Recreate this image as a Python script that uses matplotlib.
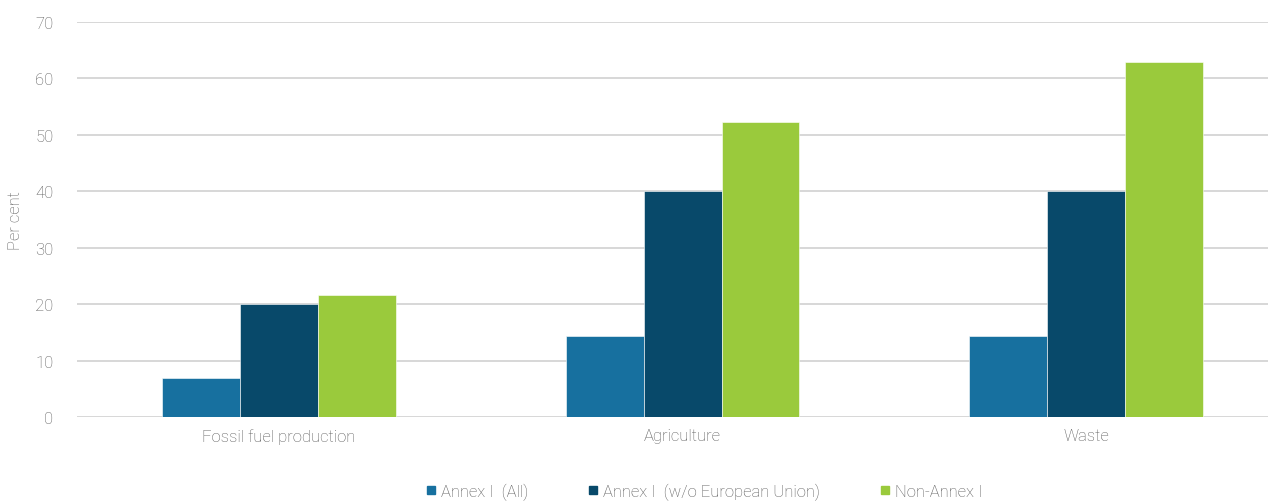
import matplotlib
matplotlib.use("Agg")
import matplotlib.pyplot as plt
import numpy as np
from matplotlib.lines import Line2D

categories = ["Fossil fuel production", "Agriculture", "Waste"]
series_names = ["Annex I  (All)", "Annex I  (w/o European Union)", "Non-Annex I"]
annex_all = [7.0, 14.3, 14.3]
annex_wo_eu = [20.0, 40.0, 40.0]
non_annex = [21.7, 52.3, 62.9]
colors = ["#17709f", "#08496a", "#9aca3c"]
yticks = [0, 10, 20, 30, 40, 50, 60, 70]

plt.rcParams['font.family'] = ['Roboto', 'DejaVu Sans']
text_color = "#5a5a5a"

fig = plt.figure(figsize=(12.68, 5.02), dpi=100)
ax = fig.add_axes([77/1268, 1-418/502, 1-77/1268, (418-23)/502])

x = np.arange(len(categories))
w = 0.193
for i, (vals, c) in enumerate(zip([annex_all, annex_wo_eu, non_annex], colors)):
    ax.bar(x + (i-1)*w, vals, width=w, color=c, zorder=3, label=series_names[i],
           edgecolor="white", linewidth=0.4)

ax.set_ylim(0, 70)
ax.set_xlim(-0.5, 2.45)
ax.set_yticks(yticks)
ax.set_xticks(x)
ax.set_xticklabels(categories)
ax.yaxis.grid(True, color="#d4d4d4", linewidth=1.3, zorder=0)
ax.set_axisbelow(True)
for s in ax.spines.values():
    s.set_visible(False)
ax.tick_params(axis='both', length=0, colors=text_color, labelsize=12)
ax.tick_params(axis='y', pad=17)
ax.tick_params(axis='x', pad=8)
for lbl in ax.get_xticklabels() + ax.get_yticklabels():
    lbl.set_fontweight('light')
ax.set_ylabel("Per cent", color=text_color, fontsize=12, fontweight='light', labelpad=9)

handles = [Line2D([0], [0], marker='s', linestyle='none', markersize=6,
                  markerfacecolor=c, markeredgecolor=c) for c in colors]
leg = fig.legend(handles, series_names, loc='center', bbox_to_anchor=(0.554, 0.02),
                 ncol=3, frameon=False, handletextpad=0.1,
                 columnspacing=3.4, handlelength=1.0, labelcolor=text_color,
                 prop={'weight': 'light', 'size': 12})

fig.savefig("out.png", dpi=100)
